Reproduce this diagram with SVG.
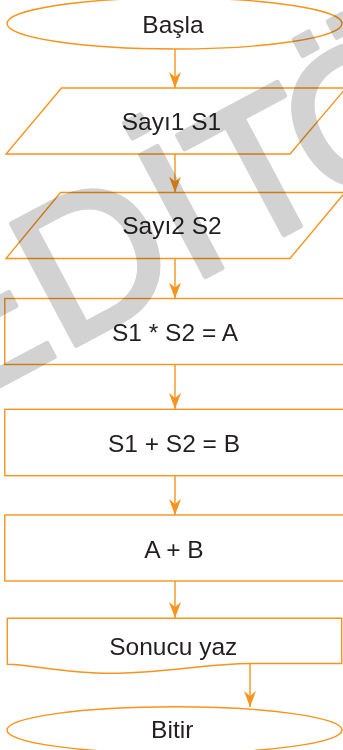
<svg xmlns="http://www.w3.org/2000/svg" width="343" height="750" viewBox="0 0 343 750">
  <style>
    .shape { fill: none; stroke: #f7941d; stroke-width: 1.4; }
    .conn { fill: none; stroke: #f7941d; stroke-width: 1.4; marker-end: url(#arrow); }
    .label { font-family: "Liberation Sans", Arial, sans-serif; font-size: 24.5px; fill: #231f20; text-anchor: middle; }
    .wm { font-family: "Liberation Sans", Arial, sans-serif; font-size: 200px; fill: #d2d2d2; stroke: #d2d2d2; stroke-width: 5; stroke-linejoin: round; mix-blend-mode: multiply; }
  </style>
  <defs>
    <marker id="arrow" viewBox="0 0 16 12" refX="16" refY="6" markerWidth="16" markerHeight="12" markerUnits="userSpaceOnUse" orient="auto">
      <path d="M0,0 L16,6 L0,12 L5,6 Z" fill="#f7941d"/>
    </marker>
  </defs>
  <rect x="0" y="0" width="343" height="750" fill="#ffffff"/>

  <g id="connectors">
    <line class="conn" x1="175" y1="49" x2="175" y2="88"/>
    <line class="conn" x1="175" y1="154" x2="175" y2="192.5"/>
    <line class="conn" x1="175" y1="258.5" x2="175" y2="298.5"/>
    <line class="conn" x1="175" y1="364.5" x2="175" y2="409"/>
    <line class="conn" x1="175" y1="476" x2="175" y2="515"/>
    <line class="conn" x1="175" y1="581" x2="175" y2="618"/>
    <line class="conn" x1="250" y1="664" x2="250" y2="707"/>
  </g>

  <g id="node-basla">
    <ellipse class="shape" cx="174.5" cy="23.5" rx="167.5" ry="25.5"/>
    <text class="label" x="173" y="33.3">Başla</text>
  </g>
  <g id="node-sayi1">
    <polygon class="shape" points="61.5,88 346,88 290,154 6,154"/>
    <text class="label" x="171.5" y="129.5">Sayı1 S1</text>
  </g>
  <g id="node-sayi2">
    <polygon class="shape" points="60.5,192.5 345,192.5 290,258.5 6,258.5"/>
    <text class="label" x="172" y="234.3">Sayı2 S2</text>
  </g>
  <g id="node-carp">
    <rect class="shape" x="4.8" y="298.5" width="345" height="66"/>
    <text class="label" x="175" y="341">S1 * S2 = A</text>
  </g>
  <g id="node-topla">
    <rect class="shape" x="4.8" y="409.3" width="345" height="66.4"/>
    <text class="label" x="174" y="452.3">S1 + S2 = B</text>
  </g>
  <g id="node-ab">
    <rect class="shape" x="4.8" y="515" width="345" height="66"/>
    <text class="label" x="174" y="558.3">A + B</text>
  </g>
  <g id="node-yaz">
    <path class="shape" d="M7.3,618.3 H341.7 V663.5 H250 C205,663.8 165,673.3 110,673.3 C65,673.3 35,665 7.3,664.3 Z"/>
    <text class="label" x="173.3" y="655">Sonucu yaz</text>
  </g>
  <g id="node-bitir">
    <ellipse class="shape" cx="174.5" cy="730" rx="167.5" ry="23.2"/>
    <text class="label" x="172.2" y="738">Bitir</text>
  </g>

  <g id="watermark">
    <text class="wm" transform="translate(-56,415.6) rotate(-28)" x="0" y="0">EDİT<tspan dx="-20">Ö</tspan></text>
  </g>
</svg>
